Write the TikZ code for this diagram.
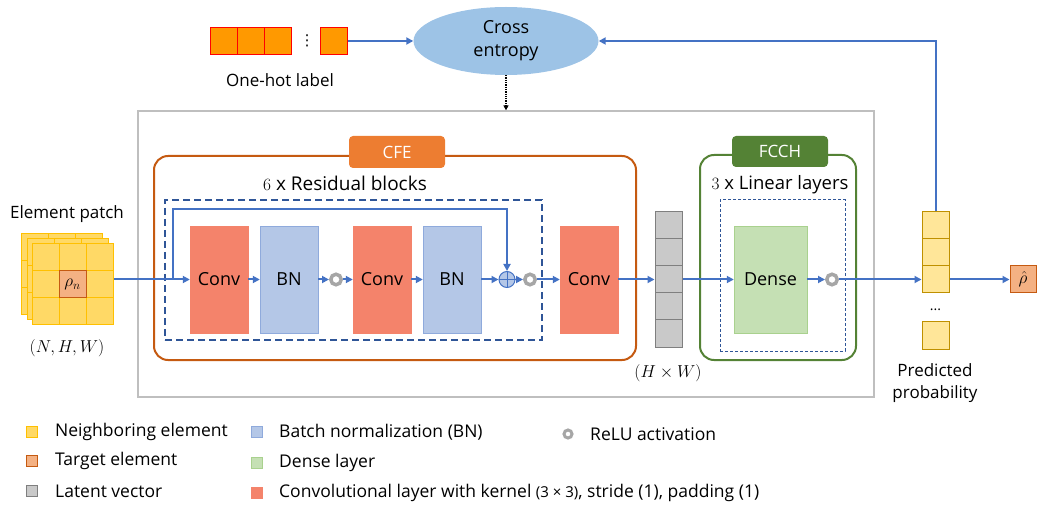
\documentclass[tikz,border=0pt]{standalone}
\usepackage{fontspec}
\setmainfont{Open Sans}
\newfontfamily\dejavu{DejaVu Sans}
\usetikzlibrary{arrows.meta,shapes.geometric}
\definecolor{lineblue}{HTML}{4472C4}
\definecolor{convfill}{HTML}{F4836B}
\definecolor{bnfill}{HTML}{B4C7E7}
\definecolor{bnedge}{HTML}{8FAADC}
\definecolor{densefill}{HTML}{C5E0B4}
\definecolor{denseedge}{HTML}{A9D18E}
\definecolor{cfeorange}{HTML}{ED7D31}
\definecolor{cfeedge}{HTML}{C55A11}
\definecolor{fcchgreen}{HTML}{548235}
\definecolor{dashblue}{HTML}{2F5597}
\definecolor{latentfill}{HTML}{C9C9C9}
\definecolor{latentedge}{HTML}{7F7F7F}
\definecolor{probfill}{HTML}{FFE699}
\definecolor{probedge}{HTML}{BF9000}
\definecolor{patchfill}{HTML}{FFD966}
\definecolor{patchedge}{HTML}{FFC000}
\definecolor{targetfill}{HTML}{F4B183}
\definecolor{onehotfill}{HTML}{FF9900}
\definecolor{onehotedge}{HTML}{FF0000}
\definecolor{ellfill}{HTML}{9DC3E6}
\definecolor{relugray}{HTML}{A6A6A6}
\definecolor{boxgray}{HTML}{BFBFBF}
\tikzset{
  mainfont/.style={font=\fontsize{17}{21}\selectfont},
  legfont/.style={font=\fontsize{17.5}{20}\selectfont},
  layer/.style={minimum width=58pt, minimum height=107pt, inner sep=0pt, font=\fontsize{18}{21}\selectfont},
  conv/.style={layer, fill=convfill, draw=convfill},
  bn/.style={layer, fill=bnfill, draw=bnedge},
  dense/.style={layer, minimum width=73pt, fill=densefill, draw=denseedge},
  relu/.style={circle, draw=relugray, line width=3.5pt, fill=white, minimum size=10.5pt, inner sep=0pt},
  plusnode/.style={circle, draw=lineblue, line width=1pt, fill=bnfill, minimum size=16pt, inner sep=0pt},
  flow/.style={draw=lineblue, line width=2pt, -{Triangle[length=7pt,width=7pt]}},
  cell/.style={minimum width=27pt, minimum height=27pt, inner sep=0pt, line width=1pt},
  pcell/.style={cell, fill=patchfill, draw=patchedge},
  latcell/.style={cell, fill=latentfill, draw=latentedge},
  probcell/.style={cell, fill=probfill, draw=probedge},
  ohcell/.style={cell, fill=onehotfill, draw=onehotedge},
  tag/.style={rounded corners=4pt, minimum width=96pt, minimum height=32pt, inner sep=0pt, text=white, mainfont},
  legsq/.style={minimum width=11pt, minimum height=11pt, inner sep=0pt, line width=0.8pt},
  legtext/.style={anchor=west, legfont, inner sep=0pt},
}
\begin{document}
\begin{tikzpicture}[x=1pt,y=-1pt]
\useasboundingbox (0,0) rectangle (1037,513);

% outer gray box
\node[draw=boxgray, line width=1.3pt, minimum width=736pt, minimum height=286pt, inner sep=0pt] (outer) at (506,254) {};

% cross entropy and one-hot label
\node[ellipse, fill=ellfill, minimum width=185pt, minimum height=68pt, inner sep=0pt, align=center, font=\fontsize{18}{23}\selectfont] (ce) at (506,41) {Cross\\entropy};
\node[ohcell] (oh1) at (223.5,41) {};
\node[ohcell] (oh2) at (250.5,41) {};
\node[ohcell] (oh3) at (277.5,41) {};
\node[font=\fontsize{15}{15}\selectfont\dejavu, inner sep=0pt] (ohdots) at (307,41) {⋮};
\node[ohcell] (oh4) at (333.5,41) {};
\node[mainfont] (ohlabel) at (280,80) {One-hot label};
\draw[flow] (oh4.east) -- (ce.west);
\draw[densely dotted, line width=1.3pt, -{Triangle[length=5pt,width=5pt]}] (ce.south) -- (ce.south |- outer.north);

% element patch
\foreach \k/\dx/\dy in {b/-11/-10, m/-5/-5, f/0/0} {
  \foreach \i in {0,1,2} {
    \foreach \j in {0,1,2} {
      \node[pcell] (\k\i\j) at ({45.5+27*\i+\dx},{257.5+27*\j+\dy}) {};
    }
  }
}
\node[cell, fill=targetfill, draw=cfeedge, font=\fontsize{18}{18}\selectfont] (target) at (72.5,284.5) {$\rho_n$};
\node[mainfont] (patchlabel) at (67,214) {Element patch};
\node[font=\fontsize{17}{17}\selectfont] (nhw) at (67,348) {$(N,H,W)$};

% CFE
\node[draw=cfeedge, line width=2pt, rounded corners=14pt, minimum width=482pt, minimum height=204pt, inner sep=0pt] (cfe) at (395,258) {};
\node[tag, fill=cfeorange] (cfetag) at (397,152) {CFE};
\node[font=\fontsize{19}{19}\selectfont] (reslabel) at (345,183) {$6$ x Residual blocks};
\node[draw=dashblue, line width=2pt, dash pattern=on 7pt off 4pt, minimum width=377pt, minimum height=140pt, inner sep=0pt] (resbox) at (353.5,270) {};

\node[conv] (conv1) at (219,279.5) {Conv};
\node[bn] (bn1) at (289,279.5) {BN};
\node[relu] (relu1) at (336,279.5) {};
\node[conv] (conv2) at (382,279.5) {Conv};
\node[bn] (bn2) at (452,279.5) {BN};
\node[plusnode] (plus) at (507,279.5) {};
\draw[lineblue, line width=1pt] (plus.north) -- (plus.south) (plus.west) -- (plus.east);
\node[relu] (relu2) at (530,279.5) {};
\node[conv] (conv3) at (589,279.5) {Conv};

\coordinate (skipstart) at (173,279.5);
\coordinate (skiptop) at (507,209);
\draw[flow] (conv1.west -| f21.east) -- (conv1.west);
\draw[flow] (skipstart) |- (skiptop) -- (plus.north);
\draw[flow] (conv1) -- (bn1);
\draw[flow] (bn1) -- (relu1);
\draw[flow] (relu1) -- (conv2);
\draw[flow] (conv2) -- (bn2);
\draw[flow] (bn2) -- (plus);
\draw[flow] (plus) -- (relu2);
\draw[flow] (relu2) -- (conv3);

% latent vector
\foreach \i in {1,...,5} {
  \node[latcell] (lat\i) at (668.5,{198.5+27*\i}) {};
}
\node[font=\fontsize{17}{17}\selectfont] (hw) at (668,373) {$(H\times W)$};
\draw[flow] (conv3) -- (lat3);

% FCCH
\node[draw=fcchgreen, line width=2pt, rounded corners=14pt, minimum width=156pt, minimum height=205pt, inner sep=0pt] (fcch) at (778,257.5) {};
\node[tag, fill=fcchgreen, minimum height=31pt] (fcchtag) at (780,151.5) {FCCH};
\node[font=\fontsize{18.5}{18.5}\selectfont] (linlabel) at (780,185) {$3$ x Linear layers};
\node[draw=dashblue, line width=1pt, dash pattern=on 3pt off 2pt, minimum width=125pt, minimum height=151pt, inner sep=0pt] (linbox) at (782.5,275.5) {};
\node[dense] (dense) at (770.5,279.5) {Dense};
\node[relu] (relu3) at (832,279.5) {};
\draw[flow] (lat3) -- (dense);
\draw[flow] (dense) -- (relu3);

% predicted probability
\node[probcell] (p1) at (935.5,225.5) {};
\node[probcell] (p2) at (935.5,252.5) {};
\node[probcell] (p3) at (935.5,279.5) {};
\node[font=\fontsize{14}{14}\selectfont, inner sep=0pt] (pdots) at (935.5,310) {...};
\node[probcell] (p4) at (935.5,335.5) {};
\node[align=center, font=\fontsize{17}{21.5}\selectfont] (plabel) at (935,383) {Predicted\\probability};
\draw[flow] (relu3) -- (p3);
\node[cell, minimum width=26pt, fill=targetfill, draw=cfeedge, font=\fontsize{16}{16}\selectfont] (out) at (1023,279.5) {$\hat{\rho}$};
\draw[flow] (p3) -- (out);
\draw[flow] (p1.north) |- (ce.east);

% legend
\node[legsq, fill=patchfill, draw=patchedge] (lg1) at (32,432) {};
\node[legtext] (lt1) at (55,432) {Neighboring element};
\node[legsq, fill=targetfill, draw=cfeedge] (lg2) at (32,461) {};
\node[legtext] (lt2) at (55,461) {Target element};
\node[legsq, fill=latentfill, draw=latentedge] (lg3) at (32,491) {};
\node[legtext] (lt3) at (55,491) {Latent vector};
\node[legsq, fill=bnfill, draw=bnedge] (lg4) at (257,432) {};
\node[legtext] (lt4) at (279,432) {Batch normalization (BN)};
\node[legsq, fill=densefill, draw=denseedge] (lg5) at (257,463) {};
\node[legtext] (lt5) at (279,463) {Dense layer};
\node[legsq, fill=convfill, draw=convfill] (lg6) at (257,493) {};
\node[legtext] (lt6) at (279,493) {Convolutional layer with kernel {\fontsize{15}{17}\selectfont(3 × 3)}, stride (1), padding (1)};
\node[relu, line width=3pt, minimum size=8pt] (lg7) at (568,434) {};
\node[legtext] (lt7) at (590,434) {ReLU activation};
\end{tikzpicture}
\end{document}
